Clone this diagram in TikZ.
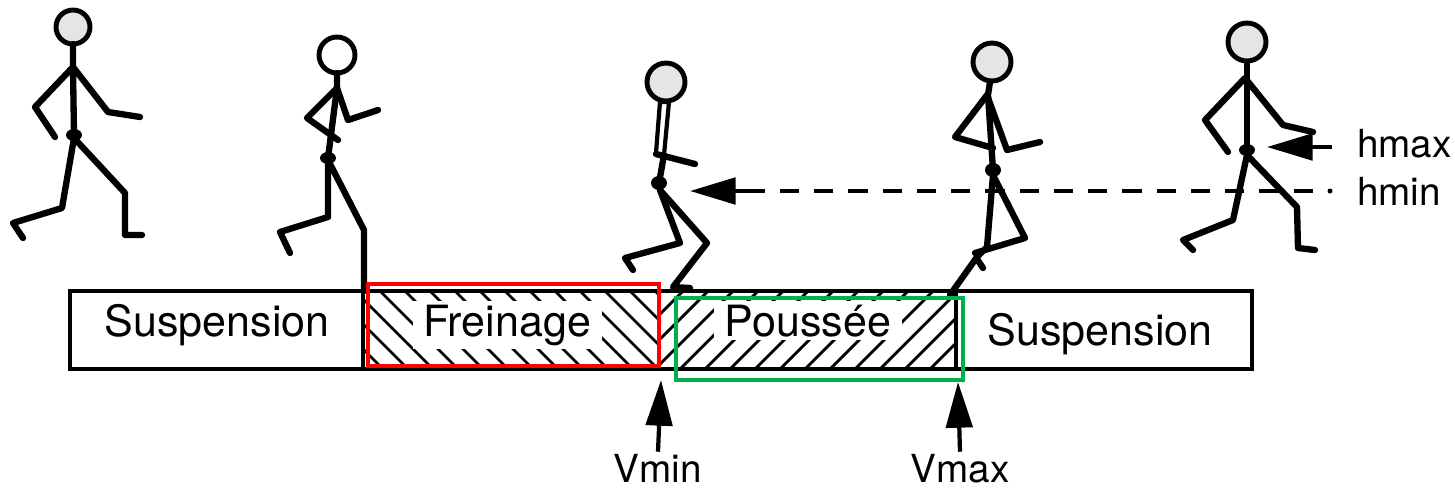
\documentclass[tikz,border=0pt]{standalone}
\usepackage{fontspec}
\setmainfont{TeX Gyre Heros}
\usetikzlibrary{arrows.meta}

\definecolor{boxred}{RGB}{255,0,0}
\definecolor{boxgreen}{RGB}{0,176,80}

\begin{document}
\begin{tikzpicture}[
    x=0.02cm, y=-0.02cm,
    limb/.style={
        line width=3.6pt,
        line cap=round,
        line join=round
    },
    head/.style={
        line width=2.8pt,
        fill=black!10
    },
    hip/.style={
        fill=black
    },
    phase/.style={
        font=\fontsize{24.5}{28}\selectfont,
        anchor=base,
        fill=white,
        inner xsep=6pt,
        inner ysep=2pt
    },
    marker/.style={
        font=\fontsize{22}{25}\selectfont,
        inner sep=1pt
    },
    pointer/.style={
        line width=2.4pt,
        -{Triangle[length=26pt,width=15pt]}
    },
    hatch/.style={
        line width=1.6pt
    },
    frame/.style={
        line width=2.6pt
    }
]
\useasboundingbox (0,0) rectangle (1455,491);

% Runner 1
\draw[head] (73,27) circle[radius=17];
\draw[limb] (73,44) -- (73,67) -- (74,135);
\draw[limb] (55,137) -- (35,107) -- (73,67) -- (108,112) -- (140,117);
\draw[limb] (23,238) -- (13,223) -- (62,208) -- (74,138) -- (125,193) -- (125,235) -- (142,235);
\fill[hip] (74,135) ellipse[x radius=8, y radius=6];

% Runner 2
\draw[head, fill=white] (337,55) circle[radius=18];
\draw[limb] (337,73) -- (337,88) -- (328,158);
\draw[limb] (338,140) -- (307,118) -- (337,88) -- (348,120) -- (378,110);
\draw[limb] (290,253) -- (280,232) -- (328,217) -- (328,160) -- (364,230) -- (364,291);
\fill[hip] (328,158) ellipse[x radius=8, y radius=6];

% Runner 3
\draw[head] (666,82) circle[radius=19];
\draw[limb, line width=2.4pt] (660,102) -- (669,102) -- (664,155);
\draw[limb, line width=2.4pt] (660,102) -- (656,153);
\draw[limb] (656,154) -- (695,164);
\draw[limb] (664,155) -- (659,183);
\draw[limb] (633,270) -- (625,258) -- (680,243) -- (660,190);
\draw[limb] (660,190) -- (707,243) -- (673,287) -- (690,288);
\fill[hip] (659,183) ellipse[x radius=8, y radius=7];

% Runner 4
\draw[head] (992,62) circle[radius=19];
\draw[limb] (990,82) -- (988,95) -- (993,170);
\draw[limb] (993,148) -- (955,137) -- (987,95) -- (1007,150) -- (1040,142);
\draw[limb] (975,253) -- (1025,238) -- (993,175) -- (987,247) -- (977,257) -- (950,295);
\draw[limb] (977,259) -- (983,268);
\fill[hip] (993,170) ellipse[x radius=8, y radius=7];

% Runner 5
\draw[head] (1247,42) circle[radius=19];
\draw[limb] (1247,62) -- (1247,77) -- (1247,150);
\draw[limb] (1228,152) -- (1205,120) -- (1245,78) -- (1283,125) -- (1313,132);
\draw[limb] (1193,250) -- (1183,240) -- (1233,220) -- (1247,155) -- (1297,207) -- (1298,248) -- (1315,250);
\fill[hip] (1247,150) ellipse[x radius=8, y radius=6];

% Phase bar hatching
\begin{scope}
    \clip (363,291) rectangle (661,369);
    \foreach \x in {280,305,...,680}
        \draw[hatch] (\x,291) -- (\x+78,369);
\end{scope}
\begin{scope}
    \clip (661,291) rectangle (956,369);
    \foreach \x in {580,605,...,980}
        \draw[hatch] (\x,369) -- (\x+78,291);
\end{scope}

% Phase bar
\draw[line width=2.2pt] (70,291) rectangle (1252,369);
\draw[line width=2.2pt] (363,291) -- (363,369);
\draw[line width=2.2pt] (956,291) -- (956,369);

\node[phase] (susp1) at (217,336) {Suspension};
\node[phase] (brake) at (507,336) {Freinage};
\node[phase] (push) at (808,336) {Poussée};
\node[phase] (susp2) at (1100,345) {Suspension};

% Highlight frames
\draw[frame, draw=boxred] (368,284) rectangle (659,366);
\draw[frame, draw=boxgreen] (676,298) rectangle (963,380);

% Speed markers
\node[marker, anchor=base] (vmin) at (658,482) {Vmin};
\node[marker, anchor=base] (vmax) at (960,482) {Vmax};
\coordinate (vmintip) at (661,380);
\coordinate (vmaxtip) at (958,382);
\draw[pointer] (vmin.north) -- (vmintip);
\draw[pointer] (vmax.north) -- (vmaxtip);

% Height markers
\node[marker, anchor=base west] (hmax) at (1355,157) {hmax};
\node[marker, anchor=base west] (hmin) at (1355,205) {hmin};
\coordinate (hmaxtail) at (1332,147);
\coordinate (hmaxtip) at (1267,147);
\coordinate (hminend) at (1313,191);
\coordinate (hminmid) at (757,191);
\coordinate (hmintip) at (690,191);
\draw[pointer] (hmaxtail) -- (hmaxtip);
\draw[line width=2.4pt, dash pattern=on 11pt off 8.5pt] (hminend) -- (hminmid);
\fill (1330,191) circle[radius=2.5];
\draw[pointer] (hminmid) -- (hmintip);

\end{tikzpicture}
\end{document}
